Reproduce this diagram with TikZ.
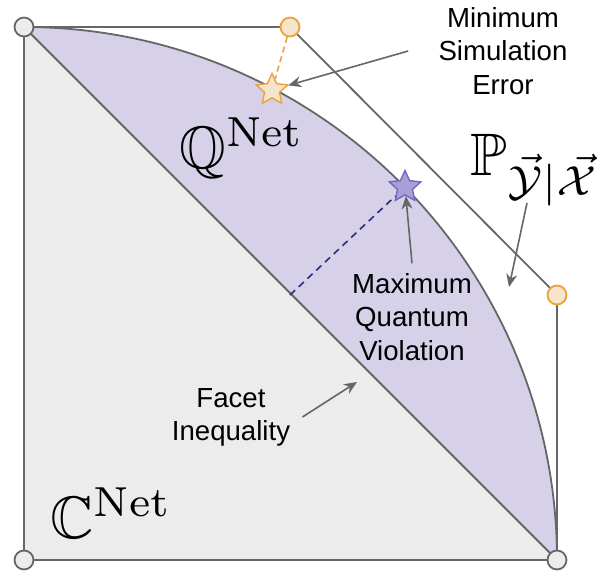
\documentclass[tikz,border=0pt]{standalone}
\usepackage{amsmath,amssymb}
\usepackage{graphicx}
\usepackage{fontspec}
\newfontfamily\notefont{Liberation Sans}
\usetikzlibrary{shapes.geometric, arrows.meta, positioning}
\definecolor{edgegray}{HTML}{666666}
\definecolor{classfill}{HTML}{ECECEC}
\definecolor{quantfill}{HTML}{D6D1E8}
\definecolor{orangeline}{HTML}{EAA23A}
\definecolor{orangefill}{HTML}{F7E4CD}
\definecolor{violetline}{HTML}{7468C0}
\definecolor{violetfill}{HTML}{A89FD8}
\definecolor{violetdash}{HTML}{2F2A7A}
\tikzset{
    edge/.style={draw=edgegray, line width=0.9pt},
    vertex/.style={circle, draw=edgegray, fill=classfill, line width=0.9pt, minimum size=9.5pt, inner sep=0pt},
    orangevertex/.style={vertex, draw=orangeline, fill=orangefill},
    optstar/.style={star, star points=5, star point ratio=2.1, line width=0.7pt, minimum size=16.5pt, inner sep=0pt},
    textnote/.style={align=center, inner sep=2pt, font=\notefont\fontsize{13.8}{16.6}\selectfont},
    setname/.style={anchor=base west, inner sep=0pt},
    pointer/.style={draw=edgegray, line width=0.8pt, -{Stealth[length=6.5pt, width=5.5pt]}}
}

\begin{document}
\begin{tikzpicture}[x=0.5pt, y=-0.5pt]
    \useasboundingbox (0,0) rectangle (616,574);
    % Corners of the set
    \coordinate (ctl) at (24,27);
    \coordinate (ctr) at (290,27);
    \coordinate (crr) at (557,295);
    \coordinate (cbr) at (557,560);
    \coordinate (cbl) at (24,560);

    % Regions
    \fill[quantfill] (ctl) arc[start angle=-90, end angle=0, radius=533] -- cycle;
    \fill[classfill] (ctl) -- (cbl) -- (cbr) -- cycle;
    \draw[edge] (ctl) -- (cbr);
    \draw[edge] (ctl) arc[start angle=-90, end angle=0, radius=533];
    \draw[edge] (ctl) -- (ctr) -- (crr) -- (cbr) -- (cbl) -- cycle;

    % Place nodes
    \node[vertex] (tl) at (ctl) {};
    \node[vertex] (bl) at (cbl) {};
    \node[vertex] (br) at (cbr) {};
    \node[orangevertex] (tr) at (ctr) {};
    \node[orangevertex] (rr) at (crr) {};
    \node[optstar, draw=orangeline, fill=orangefill] (errstar) at (272,90) {};
    \node[optstar, draw=violetline, fill=violetfill] (qstar) at (405,187) {};
    \coordinate (facetfoot) at (290,295);

    \node[setname] (qnet) at (179,168) {\scalebox{3.0}{$\mathbb{Q}^{\mathrm{Net}}$}};
    \node[setname] (cnet) at (50,538) {\scalebox{3.0}{$\mathbb{C}^{\mathrm{Net}}$}};
    \node[setname] (pyx) at (470,175) {\scalebox{3.0}{$\mathbb{P}_{\vec{\mathcal{Y}}|\vec{\mathcal{X}}}$}};

    \node[textnote] (simnote) at (503,51) {Minimum\\Simulation\\Error};
    \node[textnote] (maxnote) at (412,317) {Maximum\\Quantum\\Violation};
    \node[textnote] (facetnote) at (231,417) {Facet\\Inequality};
    \coordinate (pyxtip) at (509,287);
    \coordinate (facettip) at (357,382);

    % Draw edges
    \draw[orangeline, line width=0.8pt, dash pattern=on 3pt off 2pt] (tr) -- (errstar);
    \draw[violetdash, line width=0.8pt, dash pattern=on 3.5pt off 2.5pt] (facetfoot) -- (qstar);
    \draw[pointer] ([xshift=-13pt]simnote.west) -- (errstar);
    \draw[pointer] ([yshift=3pt]maxnote.north) -- (qstar);
    \draw[pointer] ([xshift=4pt]facetnote.east) -- (facettip);
    \draw[pointer] (527,203) -- (pyxtip);
\end{tikzpicture}
\end{document}
